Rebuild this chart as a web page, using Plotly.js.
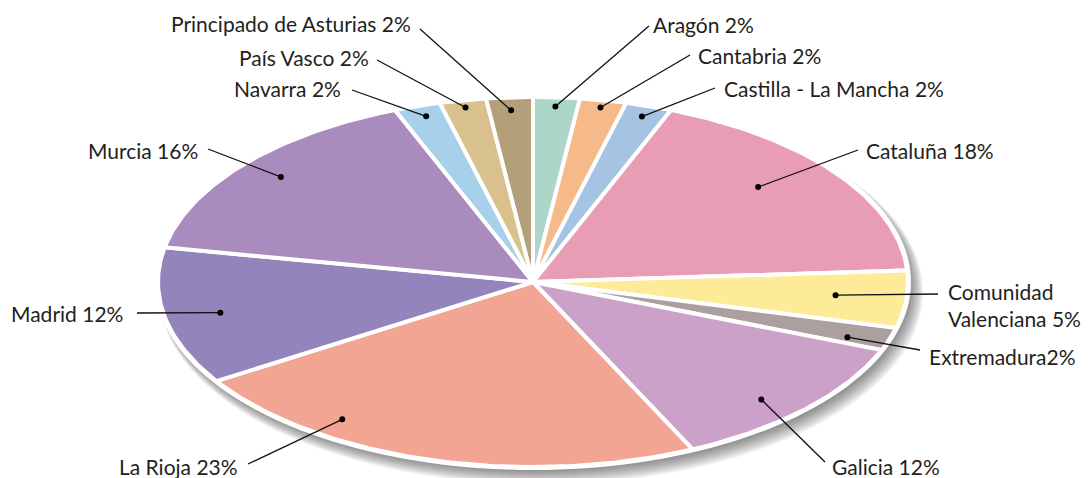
<!DOCTYPE html>
<html>
<head>
<meta charset="utf-8">
<script src="https://cdn.plot.ly/plotly-3.0.1.min.js"></script>
<style>html,body{margin:0;padding:0;background:#fff;}#chart{width:1088px;height:478px;}</style>
</head>
<body>
<div id="chart"></div>
<script>
// ---- data ----
const regions = ["Aragón","Cantabria","Castilla - La Mancha","Cataluña","Comunidad Valenciana","Extremadura","Galicia","La Rioja","Madrid","Murcia","Navarra","País Vasco","Principado de Asturias"];
const shares = [2,2,2,18,5,2,12,23,12,16,2,2,2];
const labelTexts = ["Aragón 2%","Cantabria 2%","Castilla - La Mancha 2%","Cataluña 18%","Comunidad<br>Valenciana 5%","Extremadura2%","Galicia 12%","La Rioja 23%","Madrid 12%","Murcia 16%","Navarra 2%","País Vasco 2%","Principado de Asturias 2%"];

// ---- styles / layout ----
const colors = ["#acd6c8","#f5b98a","#a5c3e2","#e99db5","#feeb98","#aba09f","#cba1c9","#f3a594","#9385bb","#a98bbd","#a7d1ea","#d8c18d","#b3a07a"];
const cx = 533, cy = 282, rx = 375, ry = 185;
// dot placement within slice: [fraction of slice angle, radius fraction]
const dotPlace = [[0.5,0.95],[0.5,0.96],[0.5,0.94],[0.43,0.79],[0.48,0.81],[0.72,0.89],[0.57,0.88],[0.72,0.90],[0.49,0.85],[0.51,0.88],[0.55,0.94],[0.5,0.96],[0.5,0.93]];
// label anchor: [lineEndX, lineEndY, textX, textY, side]
const labelPlace = [
  [649,26,651,24,"left"],
  [690,55,696,55,"left"],
  [715,88,722,88,"left"],
  [858,150,864,150,"left"],
  [938,294,946,305,"left"],
  [920,350,927,356,"left"],
  [825,462,830,466,"left"],
  [248,464,240,466,"right"],
  [137,313,125,313,"right"],
  [208,149,200,150,"right"],
  [352,90,343,88,"right"],
  [377,60,371,57,"right"],
  [420,29,413,23,"right"]
];

function pt(deg, r) {
  const a = deg * Math.PI / 180;
  return [cx + rx * r * Math.sin(a), cy - ry * r * Math.cos(a)];
}
function ellipse(ox, oy, ex, ey) {
  const xs = [], ys = [];
  for (let d = 0; d <= 360; d += 2) {
    const a = d * Math.PI / 180;
    xs.push(cx + ox + ex * Math.sin(a));
    ys.push(cy + oy - ey * Math.cos(a));
  }
  return {xs, ys};
}

const total = shares.reduce((a, b) => a + b, 0);
const traces = [];

// soft shadow toward bottom-right
for (let k = 12; k >= 0; k--) {
  const e = ellipse(2 + 0.5 * k, 3 + 0.6 * k, rx + 0.6 * k, ry + 0.6 * k);
  traces.push({type:"scatter", mode:"none", x:e.xs, y:e.ys, fill:"toself",
    fillcolor:"rgba(40,40,40,0.05)", hoverinfo:"skip"});
}
// white rim
{
  const e = ellipse(0, 0, rx + 3, ry + 3);
  traces.push({type:"scatter", mode:"none", x:e.xs, y:e.ys, fill:"toself",
    fillcolor:"#ffffff", hoverinfo:"skip"});
}

// slices
let cum = 0;
const startAngles = [], endAngles = [];
shares.forEach((v, i) => {
  const a0 = cum / total * 360;
  cum += v;
  const a1 = cum / total * 360;
  startAngles.push(a0); endAngles.push(a1);
  const xs = [cx], ys = [cy];
  const n = Math.max(4, Math.ceil((a1 - a0) / 0.5));
  for (let j = 0; j <= n; j++) {
    const p = pt(a0 + (a1 - a0) * j / n, 1);
    xs.push(p[0]); ys.push(p[1]);
  }
  xs.push(cx); ys.push(cy);
  traces.push({type:"scatter", mode:"lines", x:xs, y:ys, fill:"toself",
    fillcolor:colors[i], line:{color:"#ffffff", width:4}, name:regions[i], hoverinfo:"skip"});
});

// connectors and dots
const lx = [], ly = [], dx = [], dy = [];
shares.forEach((v, i) => {
  const ang = startAngles[i] + (endAngles[i] - startAngles[i]) * dotPlace[i][0];
  const d = pt(ang, dotPlace[i][1]);
  dx.push(d[0]); dy.push(d[1]);
  lx.push(d[0], labelPlace[i][0], null);
  ly.push(d[1], labelPlace[i][1], null);
});
traces.push({type:"scatter", mode:"lines", x:lx, y:ly, line:{color:"#111111", width:1.3}, hoverinfo:"skip"});
traces.push({type:"scatter", mode:"markers", x:dx, y:dy, marker:{color:"#000000", size:6}, hoverinfo:"skip"});

const annotations = labelTexts.map((t, i) => ({
  x: labelPlace[i][2], y: labelPlace[i][3], xref:"x", yref:"y",
  text: t, showarrow:false, xanchor: labelPlace[i][4], yanchor:"middle", align:"left",
  font:{family:"Lato, 'Open Sans', sans-serif", size:21, color:"#231f20"}
}));

const layout = {
  width:1088, height:478,
  margin:{l:0, r:0, t:0, b:0},
  paper_bgcolor:"#ffffff", plot_bgcolor:"#ffffff",
  showlegend:false, hovermode:false,
  xaxis:{range:[0,1088], visible:false, fixedrange:true},
  yaxis:{range:[478,0], visible:false, fixedrange:true},
  annotations: annotations
};

Plotly.newPlot("chart", traces, layout, {staticPlot:true, displayModeBar:false});
</script>
</body>
</html>
